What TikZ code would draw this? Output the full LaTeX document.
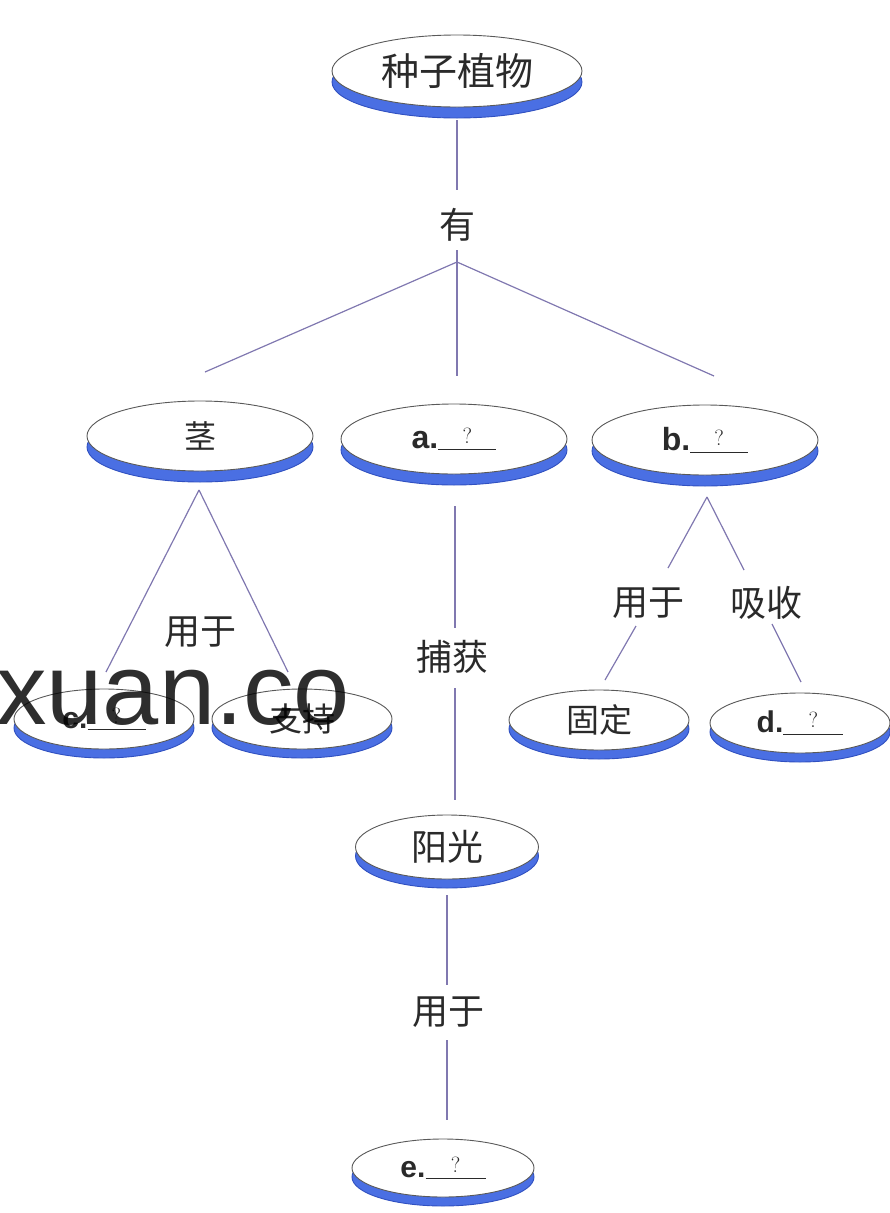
\documentclass[tikz,border=0pt]{standalone}
\usepackage{fontspec}
\newfontfamily\cjk{Noto Sans CJK SC}
\newfontfamily\lab{Liberation Sans}
\usetikzlibrary{shapes.geometric,shadows}
\definecolor{rim}{HTML}{4A6FE3}
\definecolor{rimdark}{HTML}{3050C0}
\definecolor{linec}{HTML}{8078B0}
\definecolor{textc}{HTML}{2A2A2A}
\newcommand{\blank}[2]{{\lab\bfseries #1}\underline{\makebox[#2]{\raisebox{5pt}{\normalfont\fontsize{22}{22}\selectfont ?}}}}
\tikzset{
  oval/.style={ellipse, draw=black!65, line width=0.9pt, fill=white, inner sep=0pt,
    text=textc,
    drop shadow={shadow xshift=0pt, shadow yshift=-11pt, fill=rim, draw=rimdark, opacity=1}},
  ovalsm/.style={ellipse, draw=black!65, line width=0.9pt, fill=white, inner sep=0pt,
    text=textc,
    drop shadow={shadow xshift=0pt, shadow yshift=-9pt, fill=rim, draw=rimdark, opacity=1}},
  bigoval/.style={oval, minimum width=226pt, minimum height=70pt, font=\cjk\fontsize{32}{32}\selectfont},
  smalloval/.style={ovalsm, minimum width=180pt, minimum height=60pt, font=\cjk\fontsize{33}{33}\selectfont},
  rel/.style={text=textc, font=\cjk\fontsize{36}{36}\selectfont, inner sep=0pt},
  conn/.style={draw=linec, line width=1.2pt}
}
\begin{document}
\begin{tikzpicture}[x=1pt,y=-1pt]
\useasboundingbox (0,0) rectangle (890,1213);
% nodes
\node[oval, minimum width=250pt, minimum height=72pt, font=\cjk\fontsize{38}{38}\selectfont] (root) at (457,71) {种子植物};
\node[rel] (you) at (457,225) {有};
\node[bigoval] (jing) at (200,436) {茎};
\node[bigoval, font=\fontsize{32}{32}\selectfont] (a) at (454,439) {\blank{a.}{58pt}};
\node[bigoval, font=\fontsize{32}{32}\selectfont] (b) at (705,440) {\blank{b.}{58pt}};
\node[smalloval, font=\fontsize{30}{30}\selectfont] (c) at (104,719) {\blank{c.}{58pt}};
\node[smalloval] (zhichi) at (302,719) {支持};
\node[smalloval] (guding) at (599,720) {固定};
\node[smalloval, font=\fontsize{30}{30}\selectfont] (d) at (800,723) {\blank{d.}{60pt}};
\node[smalloval, minimum width=183pt, minimum height=64pt, font=\cjk\fontsize{36}{36}\selectfont] (yang) at (447,847) {阳光};
\node[smalloval, minimum width=182pt, minimum height=58pt, font=\fontsize{30}{30}\selectfont] (e) at (443,1168) {\blank{e.}{60pt}};
\node[rel] (yong1) at (200,632) {用于};
\node[rel] (buhuo) at (452,657) {捕获};
\node[rel] (yong2) at (648,603) {用于};
\node[rel] (xishou) at (766,603) {吸收};
\node[rel] (yong3) at (448,1012) {用于};
% coordinates
\coordinate (br) at (457,262);
\coordinate (t1) at (205,372);
\coordinate (t2) at (457,376);
\coordinate (t3) at (714,376);
\coordinate (jb) at (199,490);
\coordinate (cl) at (106,672);
\coordinate (cr) at (288,672);
\coordinate (bb) at (707,497);
\coordinate (g1) at (668,568);
\coordinate (x1) at (744,570);
\coordinate (g2) at (636,626);
\coordinate (g3) at (605,680);
\coordinate (x2) at (772,624);
\coordinate (x3) at (801,682);
\coordinate (a1) at (455,506);
\coordinate (a2) at (455,628);
\coordinate (a3) at (455,688);
\coordinate (a4) at (455,800);
\coordinate (y1) at (447,895);
\coordinate (y2) at (447,985);
\coordinate (y3) at (447,1040);
\coordinate (y4) at (447,1120);
\coordinate (r1) at (457,120);
\coordinate (r2) at (457,190);
\coordinate (ys) at (457,250);
% connectors
\draw[conn] (r1) -- (r2);
\draw[conn] (ys) -- (br);
\draw[conn] (br) -- (t1);
\draw[conn] (br) -- (t2);
\draw[conn] (br) -- (t3);
\draw[conn] (jb) -- (cl);
\draw[conn] (jb) -- (cr);
\draw[conn] (a1) -- (a2);
\draw[conn] (a3) -- (a4);
\draw[conn] (y1) -- (y2);
\draw[conn] (y3) -- (y4);
\draw[conn] (bb) -- (g1);
\draw[conn] (bb) -- (x1);
\draw[conn] (g2) -- (g3);
\draw[conn] (x2) -- (x3);
% watermark
\node[anchor=base west, inner sep=0pt, text=black, opacity=0.82, font=\lab\fontsize{101}{101}\selectfont] (wm) at (-4,724) {xuan.co};
\end{tikzpicture}
\end{document}
